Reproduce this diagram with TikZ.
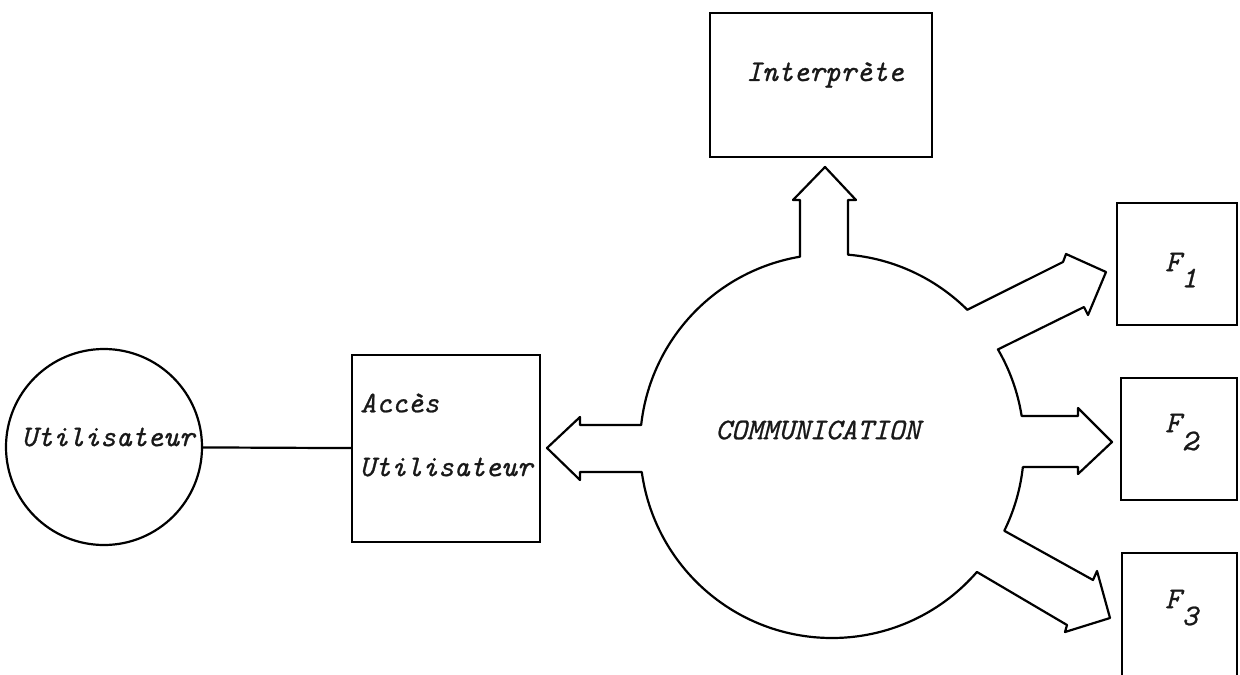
\documentclass[tikz,border=0pt]{standalone}
\usepackage{fontspec}
\newfontfamily\handfont{Latin Modern Mono}[FakeBold=0.8]
\usetikzlibrary{calc}
\begin{document}
\begin{tikzpicture}[x=0.5pt, y=-0.5pt,
  outline/.style={draw=black, line width=1.1pt, line join=round},
  box/.style={draw=black, line width=1.1pt, rectangle, inner sep=0pt},
  lbl/.style={font=\fontsize{15}{18}\selectfont\handfont\itshape, text=black!90, inner sep=0pt}
]
\useasboundingbox (0,0) rectangle (1240,674);
\clip (0,0) rectangle (1240,674);
\fill[white] (0,0) rectangle (1240,674);

% user and its access box
\node[box, circle, minimum size=98pt] (user) at (104,447) {};
\node[lbl] (usertext) at (108,437) {Utilisateur};
\node[box, minimum width=94pt, minimum height=93.5pt] (access) at (446,448.5) {};
\node[lbl, anchor=west] (acc1) at (360,403) {Accès};
\node[lbl, anchor=west] (acc2) at (359,467) {Utilisateur};
\draw[outline] (user) -- (access);

% interpreter
\node[box, minimum width=111pt, minimum height=72pt] (interp) at (821,85) {};
\node[lbl] (interptext) at (825,75) {Interprète};

% function boxes
\node[box, minimum width=60pt, minimum height=61pt] (f1) at (1177,264) {};
\node[box, minimum width=58pt, minimum height=61pt] (f2) at (1179,439) {};
\node[box, minimum width=57.5pt, minimum height=64pt] (f3) at (1179.5,617) {};
\node[lbl] (f1a) at (1173,262) {F};
\node[lbl] (f1b) at (1189,278) {1};
\node[lbl] (f2a) at (1173,423) {F};
\node[lbl] (f2b) at (1190,441) {2};
\node[lbl] (f3a) at (1173,599) {F};
\node[lbl] (f3b) at (1190,616) {3};

% communication core with its five outgoing arrows
\coordinate (C) at (832,446);
\draw[outline]
  ($(C)+(-85.2:192)$) arc[start angle=-85.2, end angle=-45.2, radius=192]
  -- (1063,262) -- (1066,254) -- (1106,272) -- (1088,315) -- (1084,307)
  -- ($(C)+(-30.2:192)$) arc[start angle=-30.2, end angle=-9, radius=192]
  -- (1078,416) -- (1078,408) -- (1112,442) -- (1078,474) -- (1078,467)
  -- ($(C)+(6.3:192)$) arc[start angle=6.3, end angle=26.2, radius=192]
  -- (1093,580) -- (1097,571) -- (1110,618) -- (1065,632) -- (1067,625)
  -- ($(C)+(41:192)$) arc[start angle=41, end angle=172.2, radius=192]
  -- (580,472) -- (580,480) -- (547,448) -- (580,417) -- (580,425)
  -- ($(C)+(186.3:192)$) arc[start angle=186.3, end angle=260.4, radius=192]
  -- (800,200) -- (793,200) -- (825,167) -- (856,200) -- (848,200)
  -- cycle;
\node[lbl, anchor=west] (comm) at (715,430) {COMMUNICATION};
\end{tikzpicture}
\end{document}
